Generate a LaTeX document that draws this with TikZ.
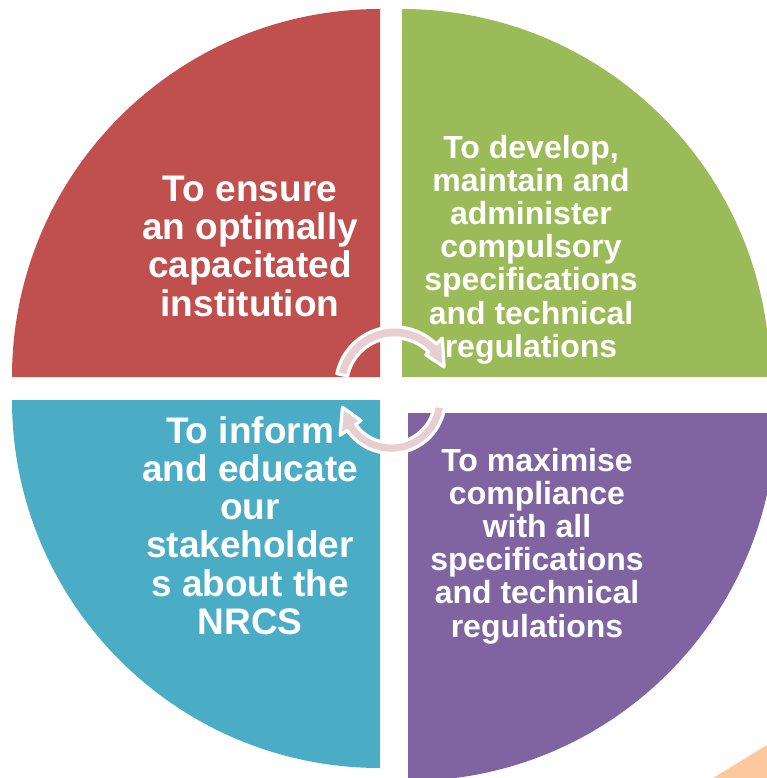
\documentclass[tikz,border=0pt]{standalone}
\usepackage{fontspec}
\setmainfont{Liberation Sans}
\usetikzlibrary{calc}
\definecolor{qred}{RGB}{192,80,77}
\definecolor{qgreen}{RGB}{155,187,89}
\definecolor{qblue}{RGB}{75,172,198}
\definecolor{qpurple}{RGB}{128,100,162}
\definecolor{arrowpink}{RGB}{231,206,209}
\definecolor{peach}{RGB}{251,201,157}
\begin{document}
\begin{tikzpicture}[x=1pt,y=-1pt,
  goal/.style={text=white, align=center, inner sep=0pt, anchor=north},
  bigtext/.style={font=\bfseries\fontsize{37}{38.3}\selectfont},
  smalltext/.style={font=\bfseries\fontsize{32}{33.2}\selectfont},
  cyc/.style={fill=arrowpink, draw=white, line width=3.2pt, line join=round}]
\useasboundingbox (0,0) rectangle (767,778);
\clip (0,0) rectangle (767,778);
% background decoration
\fill[peach] (713,778) -- (767,745) -- (767,778) -- cycle;
% quadrants
\fill[qred] (380,377) -- (12,377) arc[start angle=180,end angle=270,radius=368] -- cycle;
\fill[qgreen] (402,377) -- (402,9) arc[start angle=270,end angle=360,radius=368] -- cycle;
\fill[qblue] (380,400) -- (12,400) arc[start angle=180,end angle=90,radius=368] -- cycle;
\fill[qpurple] (408,413) -- (776,413) arc[start angle=0,end angle=90,radius=368] -- cycle;
% texts
\node[goal,bigtext] (t1) at (250,175.5) {To ensure\\an optimally\\capacitated\\institution};
\node[goal,smalltext] (t2) at (531,134.7) {To develop,\\maintain and\\administer\\compulsory\\specifications\\and technical\\regulations};
\node[goal,bigtext] (t3) at (250,416) {To inform\\and educate\\our\\stakeholder\\s about the\\NRCS};
\node[goal,smalltext] (t4) at (537,447.7) {To maximise\\compliance\\with all\\specifications\\and technical\\regulations};
% circular arrows
\coordinate (U) at (394.6,385.9);
\coordinate (L) at (391.3,399.4);
\path[cyc] ($(U)+(192:59)$) arc[start angle=192,end angle=315,radius=59]
  -- ($(U)+(315:67.5)$) -- ($(U)+(339:53)$) -- ($(U)+(315:44)$)
  -- ($(U)+(315:48)$) arc[start angle=315,end angle=192,radius=48] -- cycle;
\path[cyc] ($(L)+(8:54)$) arc[start angle=8,end angle=145,radius=54]
  -- ($(L)+(145:62.5)$) -- ($(L)+(171:49.5)$) -- ($(L)+(145:37)$)
  -- ($(L)+(145:43.5)$) arc[start angle=145,end angle=8,radius=43.5] -- cycle;
\end{tikzpicture}
\end{document}
